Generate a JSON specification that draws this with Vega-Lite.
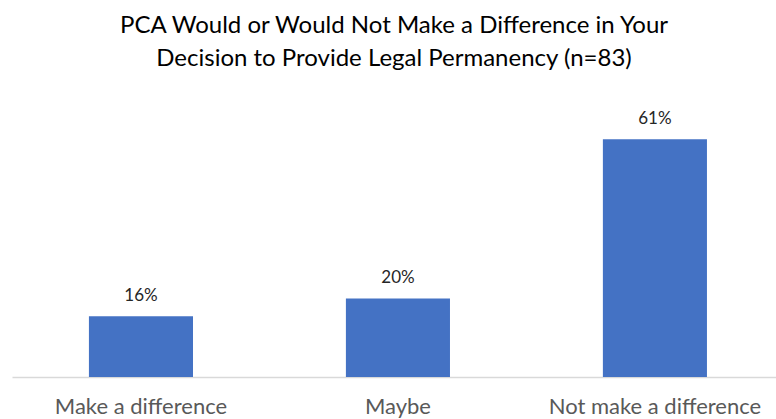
{
  "$schema": "https://vega.github.io/schema/vega-lite/v6.json",
  "width": 764,
  "height": 271,
  "autosize": {"type": "none"},
  "padding": {"left": 12, "right": 0, "top": 106, "bottom": 42},
  "background": "white",
  "title": {
    "text": ["PCA Would or Would Not Make a Difference in Your", "Decision to Provide Legal Permanency (n=83)"],
    "font": "Lato",
    "fontSize": 24,
    "fontWeight": "normal",
    "color": "#000000",
    "lineHeight": 33,
    "anchor": "middle",
    "frame": "group",
    "offset": 35
  },
  "data": {
    "values": [
      {"category": "Make a difference", "share": 0.157},
      {"category": "Maybe", "share": 0.203},
      {"category": "Not make a difference", "share": 0.614}
    ]
  },
  "encoding": {
    "x": {
      "field": "category",
      "type": "nominal",
      "sort": null,
      "scale": {"paddingInner": 0.595, "paddingOuter": 0.284, "align": 0.527},
      "axis": {
        "title": null,
        "labelAngle": 0,
        "labelFont": "Lato",
        "labelFontSize": 22,
        "labelColor": "#595959",
        "labelPadding": 19,
        "labelLimit": 0,
        "labelOverlap": false,
        "ticks": false,
        "domainColor": "#d9d9d9",
        "domainWidth": 1.5,
        "grid": false
      }
    },
    "y": {
      "field": "share",
      "type": "quantitative",
      "scale": {"domain": [0, 0.7]},
      "axis": null
    }
  },
  "layer": [
    {"mark": {"type": "bar", "color": "#4472c4"}},
    {
      "mark": {"type": "text", "baseline": "alphabetic", "dy": -15, "font": "Lato", "fontSize": 17, "color": "#262626"},
      "encoding": {"text": {"field": "share", "type": "quantitative", "format": ".0%"}}
    }
  ],
  "config": {"view": {"stroke": null}}
}
